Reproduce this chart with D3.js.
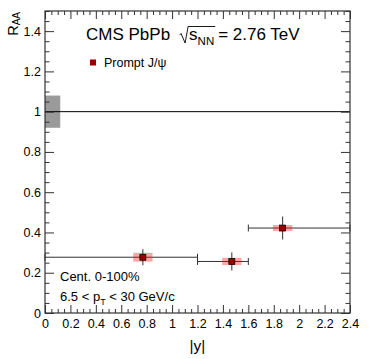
<!DOCTYPE html>
<html>
<head>
<meta charset="utf-8">
<script src="https://cdn.jsdelivr.net/npm/d3@7"></script>
<style>
body { margin: 0; background: #fff; }
svg text { font-family: "Liberation Sans", Arial, Helvetica, sans-serif; fill: #000; }
</style>
</head>
<body>
<svg id="chart"></svg>
<script>
// rapidity bins, |y|
const binLow = [0, 1.2, 1.6];
const binHigh = [1.2, 1.6, 2.4];
const binCenter = [0.77, 1.47, 1.87];
// nuclear modification factor, prompt J/psi
const raa = [0.277, 0.256, 0.422];
const statErr = [0.04, 0.045, 0.057];
const systErr = [0.022, 0.018, 0.015];
const globalUnc = 0.08;

const xTickLabels = [0, 0.2, 0.4, 0.6, 0.8, 1, 1.2, 1.4, 1.6, 1.8, 2, 2.2, 2.4];
const yTickLabels = [0, 0.2, 0.4, 0.6, 0.8, 1, 1.2, 1.4];

const size = { w: 374, h: 359 };
const frame = { l: 45, r: 350, t: 11, b: 313 };

const svg = d3.select("svg#chart").attr("width", size.w).attr("height", size.h);

const x = d3.scaleLinear().domain([0, 2.4]).range([frame.l, frame.r]);
const y = d3.scaleLinear().domain([0, 1.5]).range([frame.b, frame.t]);

const xMinor = d3.range(0, 2.4001, 0.05).filter((v) => Math.abs(v / 0.2 - Math.round(v / 0.2)) > 0.01);
const yMinor = d3.range(0, 1.5001, 0.05).filter((v) => Math.abs(v / 0.2 - Math.round(v / 0.2)) > 0.01);

const fmt = (d) => String(+d.toFixed(1));

// global uncertainty box at unity
svg.append("rect")
	.attr("x", x(0))
	.attr("y", y(1 + globalUnc))
	.attr("width", x(0.12) - x(0))
	.attr("height", y(1 - globalUnc) - y(1 + globalUnc))
	.attr("fill", "#9a9a9a");

svg.append("line")
	.attr("x1", x(0)).attr("x2", x(2.4))
	.attr("y1", y(1)).attr("y2", y(1))
	.attr("stroke", "#000").attr("stroke-width", 1);

const pts = raa.map((v, i) => ({
	lo: binLow[i], hi: binHigh[i], c: binCenter[i], v: v, stat: statErr[i], syst: systErr[i],
}));

const dataG = svg.append("g").classed("points", true);

// horizontal bin-width bars with end caps
dataG.selectAll("line.hbar")
	.data(pts)
	.join("line")
	.classed("hbar", true)
	.attr("x1", (d) => x(d.lo)).attr("x2", (d) => x(d.hi))
	.attr("y1", (d) => y(d.v)).attr("y2", (d) => y(d.v))
	.attr("stroke", "#333").attr("stroke-width", 1);

const caps = pts.flatMap((d) => [{ xv: d.lo, v: d.v }, { xv: d.hi, v: d.v }]);
dataG.selectAll("line.cap")
	.data(caps)
	.join("line")
	.classed("cap", true)
	.attr("x1", (d) => x(d.xv)).attr("x2", (d) => x(d.xv))
	.attr("y1", (d) => y(d.v) - 3.5).attr("y2", (d) => y(d.v) + 3.5)
	.attr("stroke", "#333").attr("stroke-width", 1);

// systematic boxes
dataG.selectAll("rect.syst")
	.data(pts)
	.join("rect")
	.classed("syst", true)
	.attr("x", (d) => x(d.c - 0.076))
	.attr("y", (d) => y(d.v + d.syst))
	.attr("width", (d) => x(d.c + 0.076) - x(d.c - 0.076))
	.attr("height", (d) => y(d.v - d.syst) - y(d.v + d.syst))
	.attr("fill", "#ff0000")
	.attr("fill-opacity", 0.35);

// statistical bars
dataG.selectAll("line.stat")
	.data(pts)
	.join("line")
	.classed("stat", true)
	.attr("x1", (d) => x(d.c)).attr("x2", (d) => x(d.c))
	.attr("y1", (d) => y(d.v + d.stat)).attr("y2", (d) => y(d.v - d.stat))
	.attr("stroke", "#333").attr("stroke-width", 1);

dataG.selectAll("rect.marker")
	.data(pts)
	.join("rect")
	.classed("marker", true)
	.attr("x", (d) => x(d.c) - 3)
	.attr("y", (d) => y(d.v) - 3)
	.attr("width", 6).attr("height", 6)
	.attr("fill", "#990000")
	.attr("stroke", "#000").attr("stroke-width", 0.7);

// axes with inward ticks on all four sides
function tickAxis(axis, values, len, labels, transform) {
	const g = svg.append("g")
		.attr("transform", transform)
		.call(axis.tickValues(values).tickSize(-len).tickPadding(labels ? 4 : 0)
			.tickFormat(labels ? fmt : () => ""));
	g.select(".domain").remove();
	g.selectAll(".tick line").attr("stroke", "#333");
	g.selectAll("text").style("font-size", "12.5px").attr("fill", "#000");
	return g;
}

const xBottom = tickAxis(d3.axisBottom(x), xTickLabels, 8, true, `translate(0, ${frame.b})`);
xBottom.selectAll("text").attr("dy", "0.95em").attr("y", 3);
tickAxis(d3.axisBottom(x), xMinor, 4, false, `translate(0, ${frame.b})`);
tickAxis(d3.axisTop(x), xTickLabels, 8, false, `translate(0, ${frame.t})`);
tickAxis(d3.axisTop(x), xMinor, 4, false, `translate(0, ${frame.t})`);

const yLeft = tickAxis(d3.axisLeft(y), yTickLabels, 9, true, `translate(${frame.l}, 0)`);
yLeft.selectAll("text").attr("x", -4);
tickAxis(d3.axisLeft(y), yMinor, 4.5, false, `translate(${frame.l}, 0)`);
tickAxis(d3.axisRight(y), yTickLabels, 9, false, `translate(${frame.r}, 0)`);
tickAxis(d3.axisRight(y), yMinor, 4.5, false, `translate(${frame.r}, 0)`);

svg.append("rect")
	.attr("x", frame.l).attr("y", frame.t)
	.attr("width", frame.r - frame.l).attr("height", frame.b - frame.t)
	.attr("fill", "none").attr("stroke", "#333").attr("stroke-width", 1.2);

// axis titles
const yTitle = svg.append("text")
	.attr("transform", `translate(17.5, ${frame.t + 1}) rotate(-90)`)
	.attr("text-anchor", "end")
	.style("font-size", "14.5px");
yTitle.append("tspan").text("R");
yTitle.append("tspan").attr("dy", 2).style("font-size", "10px").text("AA");

svg.append("text")
	.attr("x", (frame.l + frame.r) / 2)
	.attr("y", 351)
	.attr("text-anchor", "middle")
	.style("font-size", "15.5px")
	.text("|y|");

// title with sqrt(s_NN)
const titleSize = 17;
const t1 = svg.append("text").attr("x", 86).attr("y", 40).style("font-size", titleSize + "px").text("CMS PbPb");
let cx = 86 + t1.node().getComputedTextLength() + 11;
const sText = svg.append("text").attr("x", cx + 8).attr("y", 40).style("font-size", titleSize + "px");
sText.append("tspan").text("s");
sText.append("tspan").attr("dy", 5).style("font-size", "11.5px").text("NN");
const sEnd = cx + 8 + sText.node().getComputedTextLength() + 1;
svg.append("path")
	.attr("d", `M${cx - 1.5},35 L${cx},33.5 L${cx + 4},43 L${cx + 7},26.5 L${sEnd},26.5`)
	.attr("fill", "none").attr("stroke", "#000").attr("stroke-width", 0.9);
svg.append("text").attr("x", sEnd + 3).attr("y", 40).style("font-size", titleSize + "px").text("= 2.76 TeV");

// legend
svg.append("rect").attr("x", 90).attr("y", 59.5).attr("width", 6).attr("height", 6).attr("fill", "#990000");
svg.append("text").attr("x", 104).attr("y", 67).style("font-size", "12.5px").text("Prompt J/\u03c8");

// cuts
svg.append("text").attr("x", 60).attr("y", 281).style("font-size", "13px").text("Cent. 0-100%");
const ptText = svg.append("text").attr("x", 60).attr("y", 301).style("font-size", "13px");
ptText.append("tspan").text("6.5 < p");
ptText.append("tspan").attr("dy", 4).style("font-size", "9px").text("T");
ptText.append("tspan").attr("dy", -4).text(" < 30 GeV/c");
</script>
</body>
</html>
